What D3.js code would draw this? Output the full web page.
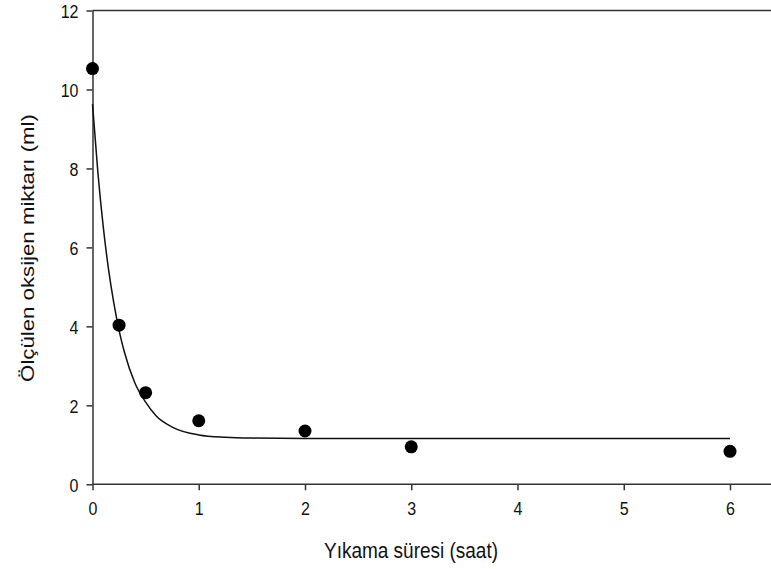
<!DOCTYPE html>
<html>
<head>
<meta charset="utf-8">
<script src="https://cdn.jsdelivr.net/npm/d3@7"></script>
<style>
  html, body { margin: 0; padding: 0; background: #fff; }
  svg { display: block; font-family: "Liberation Sans", Arial, sans-serif; }
</style>
</head>
<body>
<svg id="chart" width="771" height="569"></svg>
<script>
// Measured oxygen (ml) against washing time (hours)
const washHours = [0, 0.25, 0.5, 1, 2, 3, 6];
const oxygenMl = [10.53, 4.03, 2.32, 1.61, 1.35, 0.95, 0.835];

// Fitted decay curve, sampled along the time axis
const fitHours = [0, 0.05, 0.1, 0.15, 0.2, 0.25, 0.3, 0.4, 0.5, 0.6, 0.75, 1, 1.25, 1.5, 2, 3, 4, 5, 6];
const fitMl = [9.63, 7.92, 6.55, 5.46, 4.60, 3.90, 3.35, 2.56, 2.08, 1.73, 1.45, 1.25, 1.19, 1.17, 1.16, 1.16, 1.16, 1.16, 1.16];

const xTicks = [0, 1, 2, 3, 4, 5, 6];
const yTicks = [0, 2, 4, 6, 8, 10, 12];
const xTitle = "Yıkama süresi (saat)";
const yTitle = "Ölçülen oksijen miktarı (ml)";

const svg = d3.select("#chart");
const plotLeft = 92.5, plotTop = 10.5, plotBottom = 484.3;
const x = d3.scaleLinear().domain([0, 6]).range([plotLeft, 730]);
const y = d3.scaleLinear().domain([0, 12]).range([plotBottom, plotTop]);
const rightEdge = 780;
const stretch = 1.17; // glyphs are drawn slightly taller than wide

const axisColor = "#333";

// frame: top border runs off to the right
svg.append("line")
  .attr("x1", plotLeft).attr("x2", rightEdge)
  .attr("y1", plotTop).attr("y2", plotTop)
  .attr("stroke", axisColor).attr("stroke-width", 1.5);

// bottom axis
const gx = svg.append("g").attr("transform", `translate(0,${plotBottom})`)
  .call(d3.axisBottom(x).tickValues(xTicks).tickFormat(d3.format("d")).tickSize(6).tickSizeOuter(0));
gx.select(".domain").remove();
gx.append("line").attr("x1", plotLeft).attr("x2", rightEdge)
  .attr("stroke", axisColor).attr("stroke-width", 1.5);

// left axis
const gy = svg.append("g").attr("transform", `translate(${plotLeft},0)`)
  .call(d3.axisLeft(y).tickValues(yTicks).tickFormat(d3.format("d")).tickSize(6).tickSizeOuter(0));
gy.select(".domain").attr("stroke", axisColor).attr("stroke-width", 1.5);

[gx, gy].forEach(g => {
  g.selectAll(".tick line").attr("stroke", axisColor).attr("stroke-width", 1.5);
  g.selectAll(".tick text").attr("fill", "#111")
    .style("font-size", "16px").style("font-family", "'Liberation Sans', Arial, sans-serif");
});
gx.selectAll(".tick text").attr("dy", "0").attr("y", 0)
  .attr("transform", `translate(0,31) scale(1,${stretch})`);
gy.selectAll(".tick text").attr("x", 0).attr("dy", "0.36em")
  .attr("transform", `translate(-14,0) scale(1,${stretch})`);

// fitted curve
const line = d3.line().x((d, i) => x(fitHours[i])).y(d => y(d)).curve(d3.curveMonotoneX);
svg.append("path")
  .datum(fitMl)
  .attr("d", line)
  .attr("fill", "none")
  .attr("stroke", "#111")
  .attr("stroke-width", 1.5);

// observations
svg.append("g").selectAll("circle")
  .data(oxygenMl)
  .join("circle")
  .attr("cx", (d, i) => x(washHours[i]))
  .attr("cy", d => y(d))
  .attr("r", 6.5)
  .attr("fill", "#000");

// axis titles
svg.append("text")
  .attr("transform", `translate(411,558) scale(1,${stretch})`)
  .attr("text-anchor", "middle")
  .attr("fill", "#111")
  .style("font-size", "19px")
  .text(xTitle);

svg.append("text")
  .attr("transform", `translate(34,248) rotate(-90) scale(${stretch},1)`)
  .attr("text-anchor", "middle")
  .attr("fill", "#111")
  .style("font-size", "19px")
  .text(yTitle);
</script>
</body>
</html>
